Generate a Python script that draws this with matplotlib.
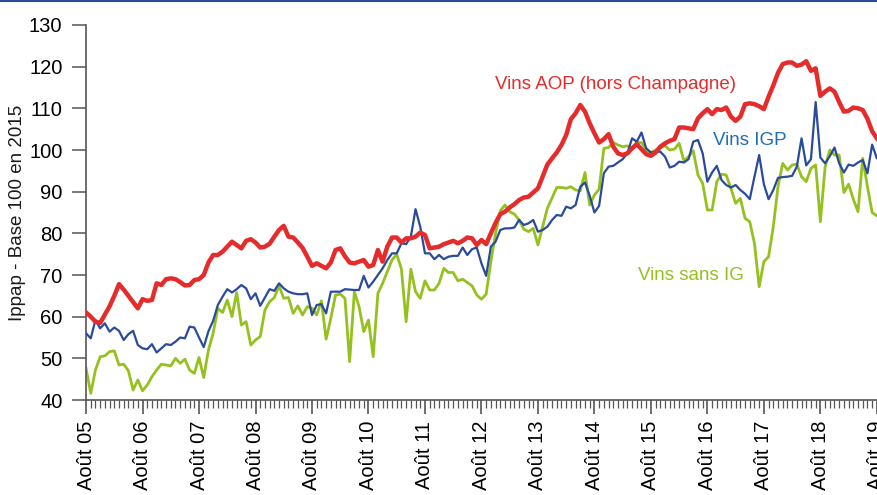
import matplotlib
matplotlib.use("Agg")
import matplotlib.pyplot as plt
from matplotlib.lines import Line2D
from matplotlib.ticker import FixedLocator, MultipleLocator

plt.rcParams['font.family'] = ['Liberation Sans', 'DejaVu Sans']

# monthly index, August 2005 = 0
aop = [61.0, 60.0, 58.8, 58.5, 60.5, 62.5, 65.0, 67.8, 66.5, 65.0,
       63.5, 62.0, 64.2, 63.8, 64.0, 68.0, 67.6, 69.0, 69.2, 69.0,
       68.3, 67.5, 67.6, 68.8, 69.0, 70.0, 73.0, 74.8, 74.8, 75.6,
       76.8, 78.0, 77.2, 76.4, 78.2, 78.6, 77.8, 76.6, 76.8, 77.5,
       79.2, 80.8, 81.8, 79.2, 79.0, 77.8, 76.5, 74.4, 72.2, 72.8,
       72.2, 71.6, 73.0, 76.0, 76.4, 74.5, 73.0, 72.8, 73.2, 73.6,
       72.0, 72.4, 76.0, 73.2, 76.8, 79.0, 79.0, 77.8, 78.8, 78.8,
       79.2, 80.2, 79.6, 76.4, 76.6, 76.8, 77.4, 77.8, 78.2, 77.6,
       78.2, 79.0, 78.8, 77.2, 78.4, 77.4, 80.0, 82.5, 84.6, 85.2,
       86.2, 87.0, 88.0, 88.6, 88.8, 89.8, 90.8, 93.6, 96.5, 98.0,
       99.4, 101.2, 103.6, 107.4, 108.8, 110.8, 109.2, 106.4, 104.0, 101.8,
       102.6, 103.8, 100.8, 99.2, 98.8, 99.2, 100.4, 101.4, 100.2, 99.0,
       98.6, 99.4, 100.8, 101.6, 102.2, 102.6, 105.4, 105.4, 105.2, 105.0,
       107.6, 108.8, 109.8, 108.6, 109.8, 109.6, 110.2, 108.0, 107.0, 108.0,
       111.0, 111.2, 111.0, 110.5, 109.8, 112.8, 115.5, 118.5, 120.6, 121.0,
       121.0, 120.2, 120.5, 121.3, 119.0, 119.6, 113.0, 114.0, 114.8, 114.0,
       111.5, 109.2, 109.4, 110.2, 110.0, 109.6, 107.5, 104.5, 102.8, 101.5]

igp = [56.0, 54.8, 59.2, 57.2, 58.4, 56.4, 57.4, 56.6, 54.4, 55.8,
       56.6, 53.2, 52.4, 52.2, 53.4, 51.4, 52.4, 53.4, 53.2, 54.0,
       55.0, 54.8, 57.6, 57.4, 55.0, 52.7, 56.5, 59.0, 62.8, 64.8,
       66.6, 65.8, 66.6, 67.6, 66.8, 64.2, 65.6, 62.6, 64.6, 66.6,
       66.2, 68.0, 66.8, 66.0, 65.6, 65.4, 65.4, 65.6, 60.4, 62.8,
       63.0, 60.8, 66.0, 66.0, 66.0, 66.6, 66.5, 66.4, 66.4, 69.8,
       67.0, 68.4, 70.0, 71.6, 73.6, 75.2, 75.2, 77.6, 77.4, 79.2,
       85.8, 81.6, 75.2, 75.2, 73.8, 74.8, 73.8, 74.4, 74.6, 74.6,
       76.6, 74.8, 76.2, 76.6, 72.8, 69.8, 76.8, 78.0, 80.8, 81.2,
       81.2, 81.4, 83.2, 82.0, 82.4, 83.2, 80.4, 80.8, 81.6, 83.2,
       84.4, 84.2, 86.4, 86.0, 86.8, 91.2, 92.2, 89.0, 85.0, 86.6,
       94.4, 96.0, 96.2, 97.0, 97.8, 99.2, 102.8, 102.0, 104.2, 100.4,
       99.4, 99.6, 99.6, 98.4, 95.8, 96.2, 97.2, 97.0, 97.8, 102.0,
       102.4, 99.2, 92.4, 94.6, 96.2, 92.8, 91.6, 91.0, 91.6, 90.4,
       89.5, 88.2, 93.6, 98.8, 91.8, 88.2, 90.4, 93.3, 93.5, 93.6,
       93.8, 96.0, 102.8, 96.3, 97.8, 111.5, 98.2, 96.8, 98.5, 100.6,
       96.8, 94.6, 96.5, 96.2, 97.0, 97.6, 94.4, 101.3, 98.0, 99.5]

sans_ig = [47.6, 41.6, 47.2, 50.4, 50.6, 51.6, 51.8, 48.4, 48.6, 47.0,
           42.4, 44.8, 42.2, 43.6, 45.6, 47.2, 48.6, 48.4, 48.2, 50.0,
           48.8, 49.8, 47.2, 46.4, 50.2, 45.4, 52.0, 56.0, 62.0, 61.0,
           64.0, 60.0, 65.8, 58.0, 58.8, 53.2, 54.4, 55.2, 61.6, 63.6,
           64.6, 67.4, 64.4, 64.6, 60.8, 62.6, 60.4, 62.4, 62.0, 60.4,
           63.8, 54.6, 59.6, 65.2, 65.4, 64.4, 49.2, 66.0, 62.4, 56.4,
           59.2, 50.4, 65.6, 68.0, 70.8, 73.6, 75.0, 71.4, 58.8, 71.4,
           66.0, 64.4, 68.6, 66.4, 66.4, 68.0, 71.6, 70.6, 70.6, 68.6,
           69.0, 68.2, 67.4, 65.2, 64.2, 65.4, 73.2, 80.0, 85.4, 86.8,
           85.2, 84.6, 83.2, 81.0, 80.4, 81.2, 77.2, 81.6, 86.0, 88.5,
           91.0, 91.0, 90.8, 91.2, 90.4, 90.2, 94.6, 86.8, 89.2, 90.6,
           100.4, 100.6, 101.8, 101.2, 100.8, 101.0, 100.4, 101.8, 101.8, 100.0,
           99.4, 100.0, 100.6, 101.0, 100.0, 100.2, 101.6, 97.4, 98.4, 99.8,
           94.0, 92.0, 85.6, 85.6, 92.4, 94.2, 94.0, 90.8, 87.2, 88.4,
           83.6, 82.8, 77.6, 67.2, 73.2, 74.4, 81.6, 91.2, 96.8, 95.2,
           96.4, 96.6, 93.6, 92.4, 95.6, 96.4, 82.8, 95.8, 100.0, 98.8,
           98.8, 89.8, 91.8, 88.2, 85.2, 98.0, 91.2, 85.0, 84.2, 84.6]

years = ["05", "06", "07", "08", "09", "10", "11", "12",
         "13", "14", "15", "16", "17", "18", "19"]
tick_labels = ["Août " + y for y in years]

months = list(range(len(aop)))

fig = plt.figure(figsize=(8.78, 4.95), dpi=100)
ax = fig.add_axes([0.098, 0.1919, 0.9114, 0.7576])

ax.plot(months, sans_ig, color='#95c11f', lw=2.0, zorder=2)
ax.plot(months, igp, color='#2a4b9b', lw=1.6, zorder=3)
ax.plot(months, aop, color='#e52b2b', lw=3.2, zorder=4, solid_joinstyle='round')

ax.set_xlim(0, 170)
ax.set_ylim(40, 130)

ax.spines['top'].set_visible(False)
ax.spines['right'].set_visible(False)
for s in ('left', 'bottom'):
    ax.spines[s].set_color('#555555')
    ax.spines[s].set_linewidth(1.2)

ax.yaxis.set_major_locator(MultipleLocator(10))
ax.tick_params(axis='y', direction='out', length=10, width=1.1, color='#555555',
               labelsize=14.5, pad=7)

ax.xaxis.set_major_locator(FixedLocator([12 * i for i in range(len(years))]))
ax.xaxis.set_minor_locator(MultipleLocator(1))
ax.set_xticklabels(tick_labels, rotation=90, ha='center', va='top')
ax.tick_params(axis='x', which='major', direction='out', length=10, width=1.2,
               color='#555555', labelsize=14.5, pad=5)
ax.tick_params(axis='x', which='minor', direction='out', length=5.5, width=0.9,
               color='#555555')

fig.text(18 / 878, 1 - 213 / 495, "Ippap - Base 100 en 2015", rotation=90,
         ha='center', va='center', fontsize=13.5, color='#1a1a1a')

ax.text(86.9, 115.6, "Vins AOP (hors Champagne)", color='#e52b2b',
        fontsize=13.5, ha='left', va='center')
ax.text(133.2, 102.4, "Vins IGP", color='#1f6db5',
        fontsize=13.5, ha='left', va='center')
ax.text(117.3, 70.0, "Vins sans IG", color='#95c11f',
        fontsize=13.5, ha='left', va='center')

fig.add_artist(Line2D([0, 1], [0.998, 0.998], transform=fig.transFigure,
                      color='#2a4b9b', lw=1.5))

fig.savefig("out.png", dpi=100)
